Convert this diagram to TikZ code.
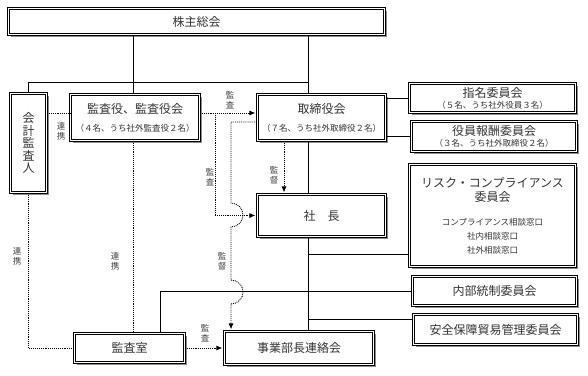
\documentclass[tikz,border=0pt]{standalone}
\usepackage{fontspec}
\setmainfont{Noto Sans CJK JP}
\usetikzlibrary{arrows.meta, shadows}

\newcommand{\smalltxt}{\fontsize{8.5}{11}\selectfont}

\tikzset{
  org/.style={draw, fill=white, double=white, double distance=1pt, line width=1.1pt,
    align=center, text=black!80, inner sep=1pt, font=\fontsize{12}{15}\selectfont,
    drop shadow={shadow xshift=2.5pt, shadow yshift=-2.5pt, fill=black!45, opacity=1}},
  link/.style={line width=1pt},
  dots/.style={densely dotted, line width=0.9pt},
  tip/.style={-{Latex[length=6pt,width=5pt]}, shorten >=1.5pt},
  lbl/.style={align=center, text=black!75, inner sep=0pt, font=\fontsize{8.5}{10}\selectfont},
}

\begin{document}
\begin{tikzpicture}[x=1pt, y=-1pt]
    \useasboundingbox (0,0) rectangle (588,375);

    \node[org, minimum width=376pt, minimum height=26pt] (kabunushi) at (196.5,21.5) {株主総会};
    \node[org, minimum width=36pt, minimum height=99pt, font=\fontsize{12}{12.5}\selectfont] (kaikei) at (28.5,143) {会\\計\\監\\査\\人};
    \node[org, minimum width=129pt, minimum height=46pt] (kansayaku) at (135,117.5) {監査役、監査役会\\[3pt]\smalltxt （４名、うち社外監査役２名）};
    \node[org, minimum width=128pt, minimum height=46pt] (torishimari) at (321.5,117.5) {取締役会\\[3pt]\smalltxt （７名、うち社外取締役２名）};
    \node[org, minimum width=166pt, minimum height=29pt] (shimei) at (492.5,98) {指名委員会\\[-4pt]\smalltxt （５名、うち社外役員３名）};
    \node[org, minimum width=165pt, minimum height=30pt] (houshu) at (494,136.5) {役員報酬委員会\\[-4pt]\smalltxt （３名、うち社外取締役２名）};
    \node[org, minimum width=166pt, minimum height=102pt] (risk) at (492.5,215.5) {リスク・コンプライアンス\\[-1pt]委員会\\[9pt]\smalltxt コンプライアンス相談窓口\\[-1pt]\smalltxt 社内相談窓口\\[-1pt]\smalltxt 社外相談窓口};
    \node[org, minimum width=128pt, minimum height=42pt] (shacho) at (321.5,215.5) {社　長};
    \node[org, minimum width=164pt, minimum height=29pt] (naibu) at (494.5,291) {内部統制委員会};
    \node[org, minimum width=164pt, minimum height=30pt] (anzen) at (495.5,329.5) {安全保障貿易管理委員会};
    \node[org, minimum width=110pt, minimum height=29pt] (kansashitsu) at (129.5,348) {監査室};
    \node[org, minimum width=149pt, minimum height=33pt] (jigyo) at (299,348) {事業部長連絡会};

    \coordinate (kv) at (133,0);
    \coordinate (tx) at (308.5,0);
    \coordinate (jn) at (308.5,82);
    \coordinate (b1) at (308.5,254);
    \coordinate (b2) at (308.5,319);

    \draw[link] (kabunushi.south -| kv) -- (kansayaku.north -| kv);
    \draw[link] (kabunushi.south -| tx) -- (torishimari.north -| tx);
    \draw[link] (kaikei.north) |- (jn);
    \draw[link] (torishimari.south -| tx) -- (shacho.north -| tx);
    \draw[link] (shacho.south -| tx) -- (jigyo.north -| tx);
    \draw[link] (torishimari.east |- shimei.west) -- (shimei.west);
    \draw[link] (torishimari.east |- houshu.west) -- (houshu.west);
    \draw[link] (b1) -- (b1 -| risk.west);
    \draw[link] (b2) -- (b2 -| anzen.west);
    \draw[link] ([xshift=30.5pt]kansashitsu.north) |- (naibu.west);

    \coordinate (r1) at (0,113);
    \coordinate (c1) at (215,113);
    \coordinate (c2) at (231,122);
    \coordinate (c3) at (284,0);

    \draw[dots] (kaikei.east |- r1) -- (kansayaku.west |- r1);
    \draw[dots, tip] (kansayaku.east |- r1) -- (torishimari.west |- r1);
    \draw[dots, tip] (c1) |- (shacho.west);
    \draw[dots, tip] (torishimari.west |- c2) -- (c2) -- (231,203)
        arc[start angle=-90, end angle=90, radius=12] -- (231,280)
        arc[start angle=-90, end angle=90, radius=12] -- (jigyo.north -| c2);
    \draw[dots, tip] (torishimari.south -| c3) -- (shacho.north -| c3);
    \draw[dots] (kaikei.south) |- (kansashitsu.west);
    \draw[dots] ([xshift=-2pt]kansayaku.south) -- ([xshift=-2pt]kansayaku.south |- kansashitsu.north);
    \draw[dots, tip] (kansashitsu.east) -- (jigyo.west);

    \foreach \x/\y/\a/\b in {
        61/131/連/携,
        230/100/監/査,
        210/177/監/査,
        274/175/監/督,
        222/261/監/督,
        17/256/連/携,
        115/261/連/携,
        205/333/監/査
    }{
        \node[lbl] (lab\x) at (\x,\y) {\a\\\b};
    }
\end{tikzpicture}
\end{document}
